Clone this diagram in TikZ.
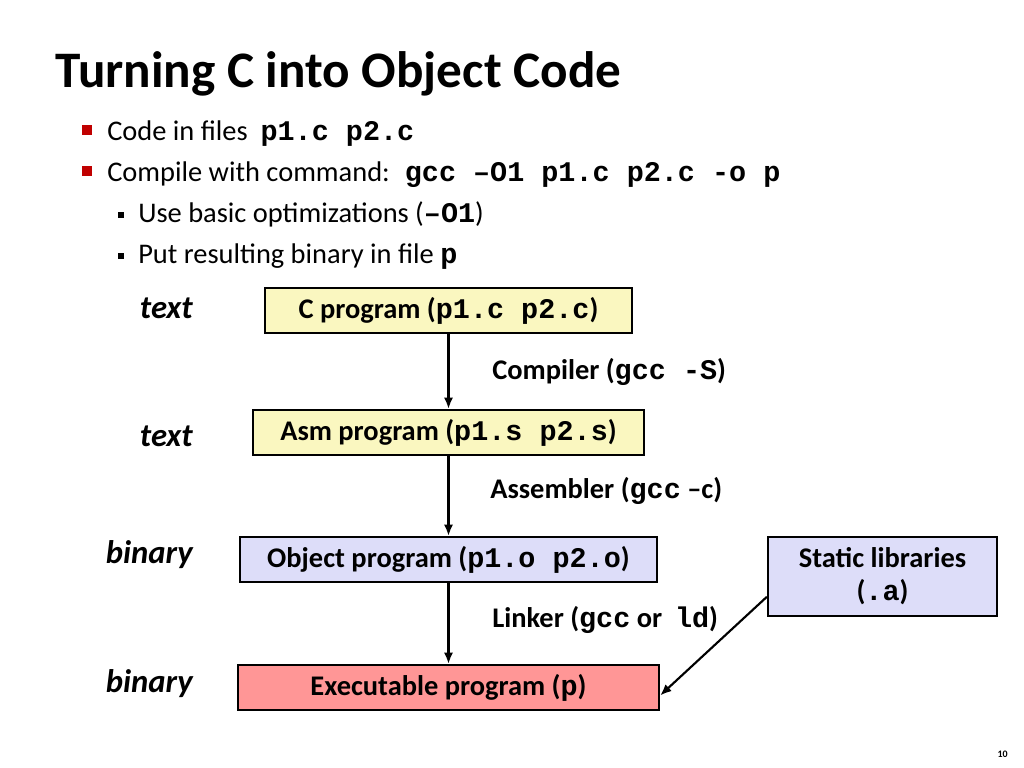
\documentclass[tikz,border=0pt]{standalone}
\usepackage{fontspec}
\setmainfont{Carlito}
\setmonofont{Liberation Mono}
\usetikzlibrary{arrows.meta,calc}

\newcommand{\cd}[1]{{\ttfamily\bfseries #1}}

\tikzset{
  stagebox/.style={draw, line width=1.6pt, inner sep=0pt, minimum height=31.6pt,
    font=\fontsize{20}{22}\selectfont\bfseries},
  steplabel/.style={anchor=west, inner sep=0pt, font=\fontsize{20}{22}\selectfont\bfseries},
  kindlabel/.style={anchor=east, inner sep=0pt, font=\fontsize{23}{26}\selectfont\bfseries\itshape},
  bullettext/.style={anchor=base west, inner sep=0pt, font=\fontsize{20}{24}\selectfont},
  flow/.style={line width=1.5pt, -{Latex[length=8pt,width=6.5pt]}}
}

\begin{document}
\begin{tikzpicture}[x=0.703125pt, y=-0.703125pt]
\definecolor{srcyellow}{RGB}{250,247,192}
\definecolor{objlav}{RGB}{221,221,249}
\definecolor{exepink}{RGB}{255,150,150}
\definecolor{bulletred}{RGB}{192,0,0}
\useasboundingbox (0,0) rectangle (1024,768);
% Title
\node[anchor=base west, inner sep=0pt, font=\fontsize{36}{40}\selectfont\bfseries] (title) at (55,88) {Turning C into Object Code};
% Bullets
\fill[bulletred] (82,125) rectangle (92,135);
\fill[bulletred] (82,166) rectangle (92,176);
\fill (118,212) rectangle (124,218);
\fill (118,253) rectangle (124,259);
\node[bullettext] (b1) at (107,141) {Code in files \ \cd{p1.c p2.c}};
\node[bullettext] (b2) at (107,182) {Compile with command: \ \cd{gcc –O1 p1.c p2.c -o p}};
\node[bullettext] (b3) at (138,223) {Use basic optimizations (\cd{–O1})};
\node[bullettext] (b4) at (138,264) {Put resulting binary in file \cd{p}};
% Stages
\node[stagebox, fill=srcyellow, minimum width=258pt] (cprog) at (448.5,310.5) {C program (\cd{p1.c p2.c})};
\node[stagebox, fill=srcyellow, minimum width=275pt] (asm) at (448.5,432.5) {Asm program (\cd{p1.s p2.s})};
\node[stagebox, fill=objlav, minimum width=293pt] (obj) at (448.5,559.5) {Object program (\cd{p1.o p2.o})};
\node[stagebox, fill=exepink, minimum width=296pt] (exe) at (448.5,687.5) {Executable program (\cd{p})};
\node[stagebox, fill=objlav, minimum width=161pt, minimum height=55.5pt, align=center] (lib) at (882.5,576.5) {Static libraries\\[1pt](\cd{.a})};
% Kind labels
\node[kindlabel] (k1) at (193,308) {text};
\node[kindlabel] (k2) at (193,436) {text};
\node[kindlabel] (k3) at (193,555) {binary};
\node[kindlabel] (k4) at (193,684) {binary};
% Tools
\node[steplabel] (t1) at (492,372) {Compiler (\cd{gcc -S})};
\node[steplabel] (t2) at (490,491) {Assembler (\cd{gcc} –c)};
\node[steplabel] (t3) at (492,620) {Linker (\cd{gcc} or \ \cd{ld})};
% Arrows
\draw[flow] (cprog) -- (asm);
\draw[flow] (asm) -- (obj);
\draw[flow] (obj) -- (exe);
\coordinate (libout) at ($(lib.south west)!0.25!(lib.north west)$);
\coordinate (exein) at ($(exe.east)+(0,8)$);
\draw[flow] (libout) -- (exein);
% Page number
\node[anchor=base east, inner sep=0pt, font=\fontsize{7}{8}\selectfont\bfseries] (pg) at (1008,757) {10};
\end{tikzpicture}
\end{document}
